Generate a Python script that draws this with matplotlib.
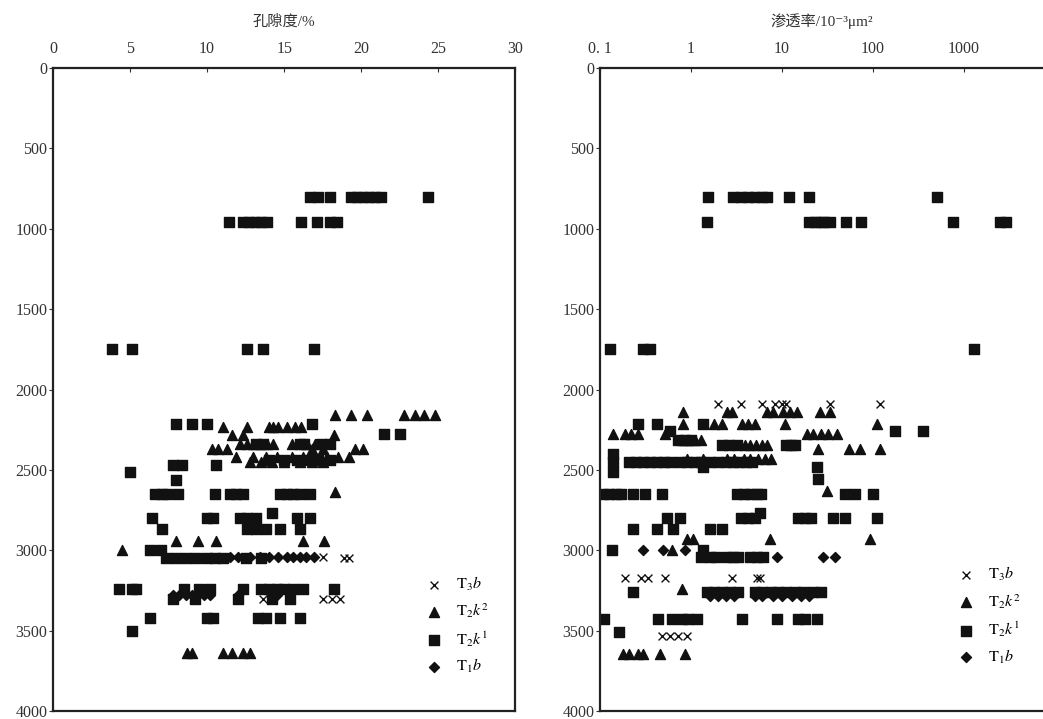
import numpy as np
import matplotlib
matplotlib.use("Agg")
import matplotlib.pyplot as plt

plt.rcParams['font.family'] = ['Liberation Serif', 'Noto Sans CJK SC', 'DejaVu Sans']
plt.rcParams['mathtext.fontset'] = 'stix'

# 孔隙度 (%) -- rows of (depth, values)
phi_T3b = [
    (3040, [17.5]),
    (3050, [18.9, 19.2]),
    (3300, [13.6, 17.5, 18.1, 18.6]),
]
phi_T2k2 = [
    (2160, [18.3, 19.3, 20.4, 22.8, 23.5, 24.1, 24.8]),
    (2235, [11.0, 12.6, 14.0, 14.3, 14.6, 15.2, 15.7, 16.1]),
    (2284, [11.6, 12.3, 18.2]),
    (2338, [12.1, 12.6, 13.0, 13.4, 13.9, 14.3, 15.5, 16.5, 17.0]),
    (2370, [10.3, 10.7, 11.3, 16.8, 17.5, 19.6, 20.1]),
    (2420, [11.9, 13.0, 13.8, 14.5, 15.5, 16.2, 17.0, 17.8, 18.5, 19.2]),
    (2450, [12.8, 13.5, 14.2, 15.0, 16.0, 16.8, 17.5]),
    (2640, [18.3]),
    (2940, [8.0, 9.4, 10.6, 16.2, 17.6]),
    (3000, [4.5]),
    (3636, [8.7, 9.0, 11.0, 11.6, 12.3, 12.8]),
]
phi_T2k1 = [
    (800, [16.7, 17.2, 18.0, 19.3, 19.7, 20.1, 20.5, 20.9, 21.3, 24.3]),
    (960, [11.4, 12.3, 12.7, 13.1, 13.5, 13.9, 16.1, 17.1, 18.0, 18.4]),
    (1750, [3.8, 5.1, 12.6, 13.6, 16.9]),
    (2216, [8.0, 9.0, 10.0, 16.8]),
    (2278, [21.5, 22.5]),
    (2338, [13.2, 13.6, 16.0, 16.3, 17.4, 18.0]),
    (2440, [14.0, 15.0, 15.8, 16.5, 17.2, 18.0]),
    (2470, [7.8, 8.4, 10.6]),
    (2512, [5.0]),
    (2562, [8.0]),
    (2648, [6.6, 7.1, 7.4, 8.1, 10.5, 11.5, 11.9, 12.3, 14.7, 15.2, 15.6, 16.0, 16.7]),
    (2770, [14.2]),
    (2800, [6.4, 10.0, 10.4, 12.1, 12.6, 13.2, 15.8, 16.7]),
    (2865, [7.1, 12.6, 13.2, 13.8, 14.7, 16.0]),
    (3000, [6.3, 7.0]),
    (3050, [7.3, 8.0, 8.6, 9.3, 10.0, 10.5, 11.0, 12.5, 13.5]),
    (3240, [4.3, 5.1, 5.4, 8.5, 9.5, 10.2, 12.3, 13.5, 14.0, 14.5, 15.0, 15.6, 16.2, 18.2]),
    (3300, [7.8, 9.2, 12.0, 14.2, 15.4]),
    (3420, [6.3, 10.0, 10.4, 13.3, 13.8, 14.7, 16.0]),
    (3500, [5.1]),
]
phi_T1b = [
    (3040, [11.5, 12.0, 12.8, 13.4, 14.0, 14.6, 15.2, 15.6, 16.0, 16.4, 16.9]),
    (3280, [7.8, 8.2, 8.6, 9.0, 9.4, 9.8, 10.2, 12.0, 14.5]),
]

# 渗透率 (10^-3 um^2)
k_T3b = [
    (2090, [2.0, 3.5, 6.0, 8.4, 10, 11, 34, 120]),
    (3173, [0.19, 0.28, 0.34, 0.52, 2.8, 5.3, 5.7]),
    (3530, [0.48, 0.59, 0.72, 0.9]),
]
k_T2k2 = [
    (2142, [0.81, 2.5, 2.8, 6.8, 7.9, 10.3, 12.2, 14.5, 26, 34]),
    (2215, [0.81, 1.8, 2.2, 3.6, 4.2, 5.0, 10.7, 110]),
    (2276, [0.14, 0.19, 0.22, 0.26, 0.52, 19, 22, 27, 32, 40]),
    (2316, [0.8, 0.95, 1.1, 1.3]),
    (2345, [3.9, 4.5, 5.2, 6.0, 6.9]),
    (2370, [25, 54, 72, 120]),
    (2430, [0.9, 1.35, 2.5, 3.0, 3.8, 4.5, 5.5, 6.5, 7.5]),
    (2630, [31]),
    (2930, [0.9, 1.05, 7.3, 92]),
    (2995, [0.62]),
    (3240, [0.8]),
    (3642, [0.18, 0.21, 0.26, 0.3, 0.46, 0.86]),
]
k_T2k1 = [
    (800, [1.55, 2.9, 3.5, 4.2, 5.0, 6.0, 6.8, 12, 20, 500]),
    (960, [1.5, 20, 23, 26, 29, 34, 50, 74, 760, 2500, 2900]),
    (1750, [0.13, 0.3, 0.35, 1300]),
    (2215, [0.26, 0.42, 1.35]),
    (2255, [0.59, 175, 355]),
    (2316, [0.72, 0.85, 1.0]),
    (2345, [2.2, 2.6, 3.2, 11, 12.5, 14]),
    (2400, [0.14]),
    (2450, [0.14, 0.21, 0.25, 0.3, 0.35, 0.42, 0.5, 0.59, 0.75, 0.9, 1.1, 1.3,
            1.6, 2.0, 2.4, 2.9, 3.4, 4.0, 4.7]),
    (2480, [1.35, 24]),
    (2510, [0.14]),
    (2555, [25]),
    (2648, [0.108, 0.125, 0.15, 0.17, 0.23, 0.31, 0.48, 3.2, 3.8, 4.5, 5.3, 5.9, 49, 63, 100]),
    (2770, [5.7]),
    (2800, [0.55, 0.76, 3.5, 4.2, 5.0, 15, 18, 21, 36, 49, 110]),
    (2870, [0.23, 0.42, 0.63, 1.6, 2.2]),
    (2995, [0.135, 1.35]),
    (3040, [1.3, 1.6, 1.9, 2.5, 2.9, 3.3, 4.4, 5.3, 6.2]),
    (3260, [0.23, 1.5, 1.8, 2.2, 2.7, 3.3, 5, 6, 7.5, 9, 11, 14, 17, 22, 27]),
    (3427, [0.11, 0.43, 0.62, 0.8, 0.92, 1.16, 3.6, 8.8, 15, 18, 24]),
    (3510, [0.16]),
]
k_T1b = [
    (2995, [0.3, 0.49, 0.86]),
    (3040, [8.8, 28, 38]),
    (3285, [1.6, 2.0, 2.4, 3.0, 5.0, 6.0, 8, 10, 13, 16, 20]),
]

labels = [r'$\mathrm{T}_3b$', r'$\mathrm{T}_2k^2$', r'$\mathrm{T}_2k^1$', r'$\mathrm{T}_1b$']


def expand(rows):
    xs, ys = [], []
    for d, vals in rows:
        for v in vals:
            xs.append(v)
            ys.append(d)
    return xs, ys


def draw(ax, series):
    styles = [
        dict(marker='x', s=32, linewidths=1.0),
        dict(marker='^', s=52),
        dict(marker='s', s=46),
        dict(marker='D', s=26),
    ]
    for rows, st, lab in zip(series, styles, labels):
        x, y = expand(rows)
        ax.scatter(x, y, c='#111111', label=lab, **st)
    ax.set_ylim(4000, 0)
    ax.set_yticks(np.arange(0, 4001, 500))
    ax.xaxis.set_label_position('top')
    ax.tick_params(axis='x', top=True, bottom=False, labeltop=True, labelbottom=False,
                   direction='in', length=3, labelsize=11.5, colors='#333333', pad=8)
    ax.tick_params(axis='y', direction='out', length=3, labelsize=11.5, colors='#333333', pad=1)
    for sp in ax.spines.values():
        sp.set_linewidth(1.6)
        sp.set_color('#222222')


fig = plt.figure(figsize=(10.43, 7.19), dpi=100)
ax1 = fig.add_axes([0.0508, 0.0110, 0.4434, 0.8943])
ax2 = fig.add_axes([0.5753, 0.0110, 0.4247, 0.8943])

draw(ax1, [phi_T3b, phi_T2k2, phi_T2k1, phi_T1b])
ax1.set_xlim(0, 30)
ax1.set_xticks([0, 5, 10, 15, 20, 25, 30])
ax1.set_xlabel('孔隙度/%', fontsize=11, color='#333333', labelpad=11)
ax1.legend(loc='upper left', bbox_to_anchor=(0.775, 0.222), frameon=False,
           fontsize=11.5, labelspacing=0.55, handletextpad=0.4, borderaxespad=0)

draw(ax2, [k_T3b, k_T2k2, k_T2k1, k_T1b])
ax2.set_xscale('log')
ax2.set_xlim(0.1, 7380)
ax2.set_xticks([0.1, 1, 10, 100, 1000])
ax2.set_xticklabels(['0. 1', '1', '10', '100', '1000'])
ax2.minorticks_off()
ax2.spines['right'].set_visible(False)
ax2.set_xlabel('渗透率/10⁻³μm²', fontsize=11, color='#333333', labelpad=11)
ax2.legend(loc='upper left', bbox_to_anchor=(0.775, 0.237), frameon=False,
           fontsize=11.5, labelspacing=0.55, handletextpad=0.4, borderaxespad=0)

fig.savefig('out.png', dpi=100)
